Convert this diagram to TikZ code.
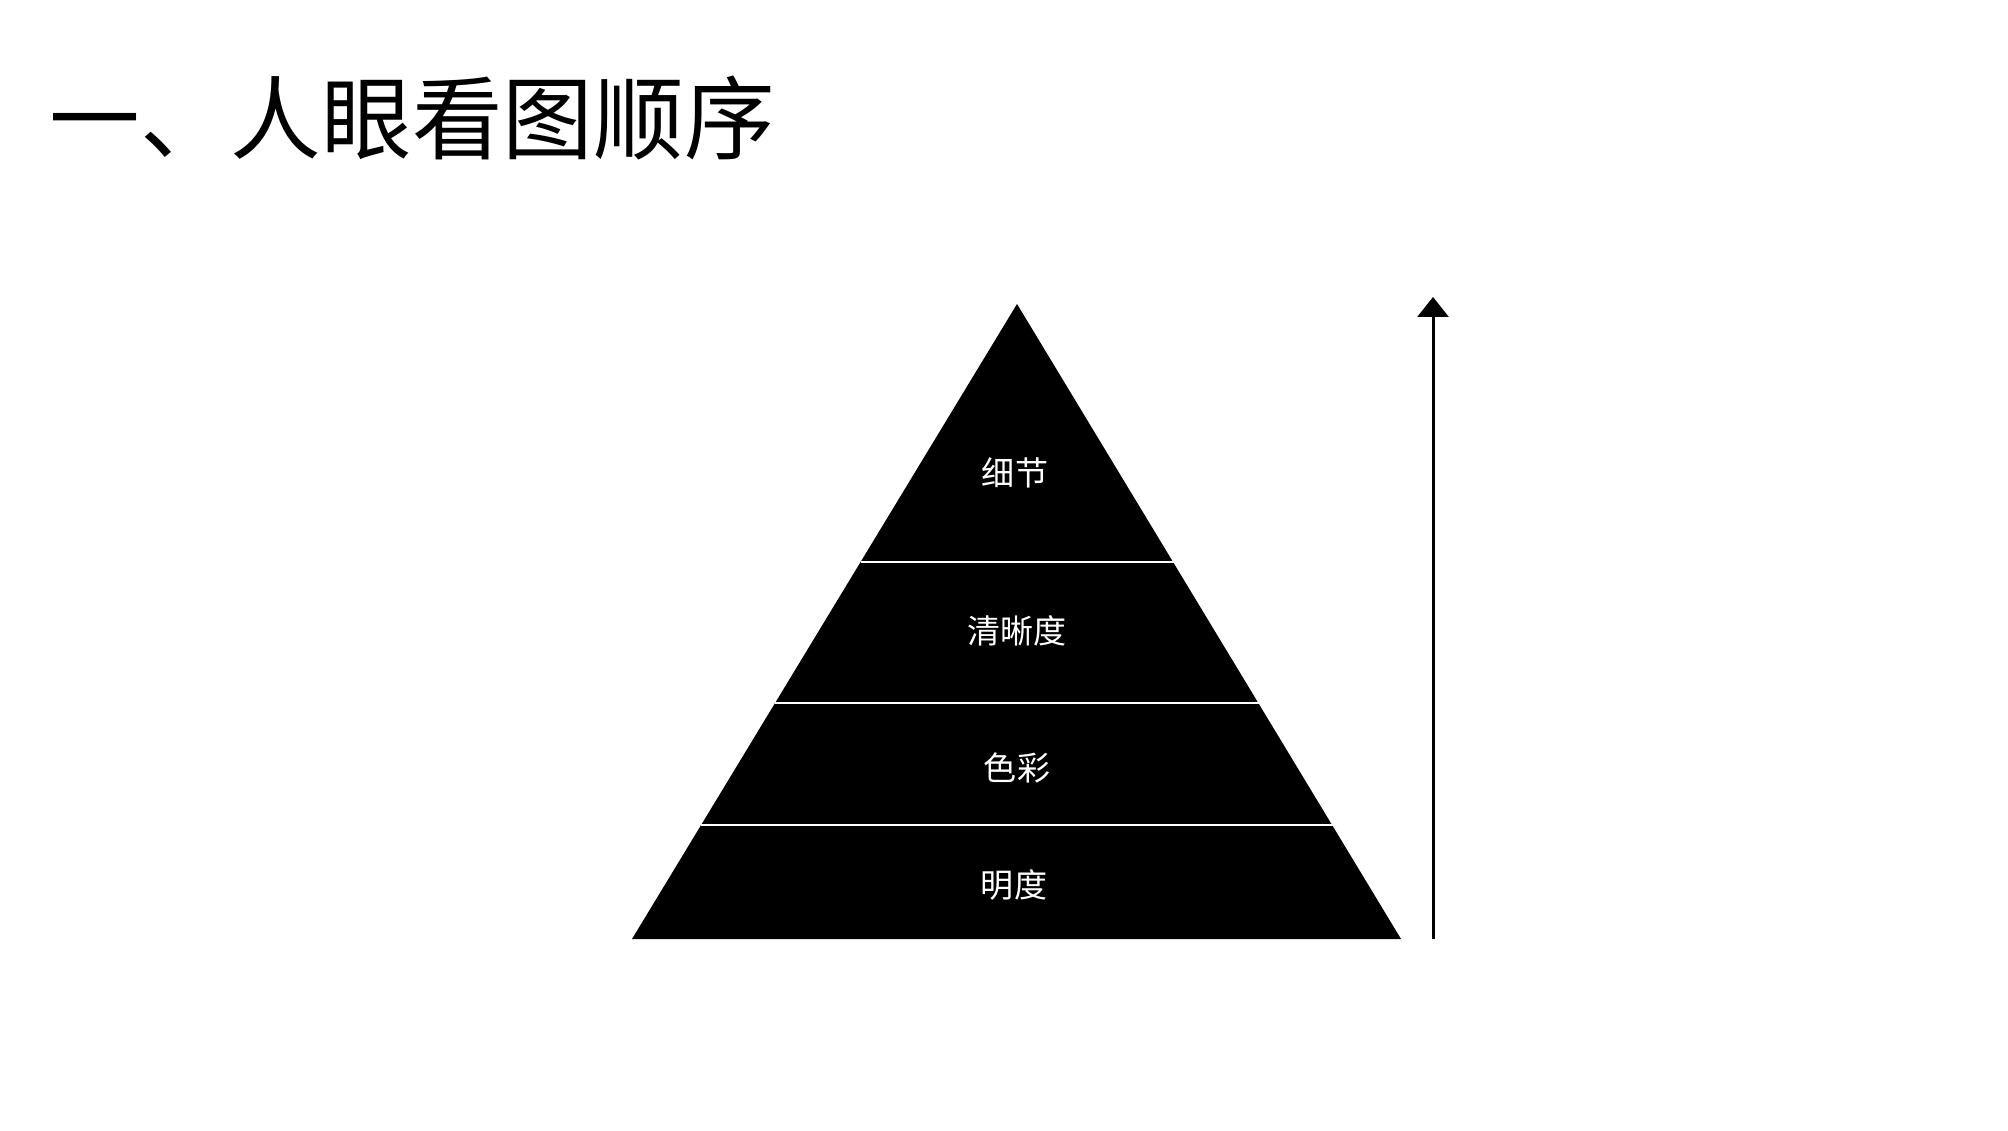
\documentclass[tikz,border=0pt]{standalone}
\usepackage{fontspec}
\setmainfont{Noto Sans CJK SC}
\usetikzlibrary{arrows.meta}
\tikzset{
  layer/.style={text=white, inner sep=0pt, font=\fontsize{18.8}{20}\selectfont},
  cut/.style={white, line width=0.9pt}
}
\begin{document}
\begin{tikzpicture}[>={Triangle[length=0.4cm, width=0.62cm]}, scale=1]
    \useasboundingbox (0,0) rectangle (40.16,22.6);
    % pyramid
    \fill[black] (12.64,3.82)--(28.02,3.82)--(20.34,16.52)--cycle;
    \draw[cut](17.21,11.36)--(23.47,11.36);
    \draw[cut](15.50,8.54)--(25.18,8.54);
    \draw[cut](14.02,6.10)--(26.66,6.10);
\node[layer] (detail) at (20.30,13.14){细节};
\node[layer] (clarity) at (20.34,9.98){清晰度};
\node[layer] (color) at (20.34,7.24){色彩};
\node[layer] (light) at (20.28,4.90){明度};
    % arrow
    \coordinate (low) at (28.66,3.82);
    \coordinate (high) at (28.66,16.66);
    \draw[->, line width=1.7pt] (low)--(high);
\node[anchor=west, inner sep=0pt, font=\fontsize{51.6}{54}\selectfont] (title) at (0.98,20.24){一、人眼看图顺序};
    \end{tikzpicture}
\end{document}
